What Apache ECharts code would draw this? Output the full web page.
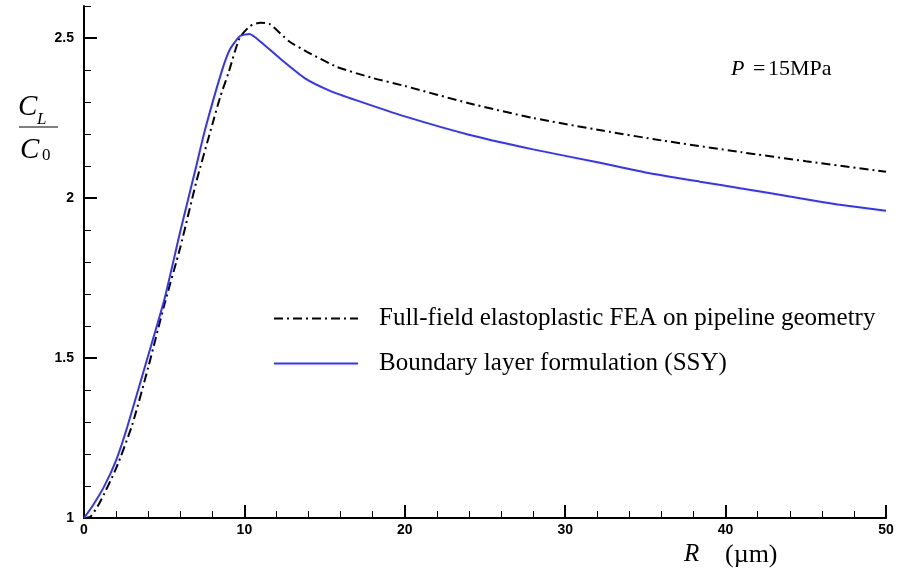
<!DOCTYPE html>
<html>
<head>
<meta charset="utf-8">
<script src="https://cdn.jsdelivr.net/npm/echarts@6/dist/echarts.min.js"></script>
<style>html,body{margin:0;padding:0;background:#fff}#c{width:902px;height:575px}</style>
</head>
<body>
<div id="c"></div>
<script>
// Full-field elastoplastic FEA on pipeline geometry (black dash-dot)
const feaR = [0, 0.4, 1, 2, 3, 4, 5, 6, 7, 8, 8.5, 9, 9.7, 10.35, 11, 11.6, 12.8, 13.9, 15.75, 18, 20, 24, 28, 32.4, 36, 41, 45, 50];
const feaC = [1.00, 1.004, 1.05, 1.155, 1.29, 1.47, 1.665, 1.845, 2.05, 2.23, 2.317, 2.39, 2.50, 2.537, 2.548, 2.543, 2.489, 2.457, 2.41, 2.375, 2.35, 2.296, 2.25, 2.21, 2.18, 2.143, 2.115, 2.082];
// Boundary layer formulation (SSY) (blue)
const ssyR = [0, 0.5, 1.25, 2, 2.7, 3.95, 5, 6, 7, 7.54, 8.58, 9.1, 9.73, 10.31, 10.97, 12.22, 13.78, 15.34, 17, 20, 24.06, 28, 32.17, 35, 38.4, 41, 44.64, 47, 50];
const ssyC = [1.00, 1.035, 1.098, 1.18, 1.285, 1.499, 1.681, 1.895, 2.10, 2.2125, 2.395, 2.465, 2.506, 2.5125, 2.49, 2.436, 2.374, 2.335, 2.305, 2.255, 2.197, 2.152, 2.110, 2.08, 2.051, 2.03, 1.999, 1.98, 1.96];
const yMajorTicks = [1, 1.5, 2, 2.5];
const seriesNames = ['Full-field elastoplastic FEA on pipeline geometry', 'Boundary layer formulation (SSY)'];

const zip = (a, b) => a.map((v, i) => [v, b[i]]);
const chart = echarts.init(document.getElementById('c'));
const serif = '"Liberation Serif", "Times New Roman", serif';
const sans = '"Liberation Sans", Arial, sans-serif';

chart.setOption({
  animation: false,
  backgroundColor: '#fff',
  grid: { left: 84, right: 16, top: 6, bottom: 57 },
  xAxis: {
    type: 'value', min: 0, max: 50, interval: 10,
    axisLine: { lineStyle: { color: '#000', width: 2 } },
    axisTick: { inside: true, length: 13, lineStyle: { color: '#000', width: 2 } },
    minorTick: { show: true, splitNumber: 5, length: 7, lineStyle: { color: '#000', width: 1 } },
    splitLine: { show: false }, minorSplitLine: { show: false },
    axisLabel: { color: '#000', fontFamily: sans, fontWeight: 'bold', fontSize: 14, margin: 5 }
  },
  yAxis: [{
    type: 'value', min: 1, max: 2.6, interval: 0.1, position: 'left',
    axisLine: { show: true, lineStyle: { color: '#000', width: 2 } },
    axisTick: { inside: true, length: 7, lineStyle: { color: '#000', width: 1 } },
    axisLabel: { show: false },
    splitLine: { show: false }
  }, {
    type: 'value', min: 1, max: 2.6, interval: 0.5, position: 'left', offset: 0,
    axisLine: { show: false },
    axisTick: { inside: true, length: 13, customValues: yMajorTicks, lineStyle: { color: '#000', width: 2 } },
    axisLabel: { customValues: yMajorTicks, color: '#000', fontFamily: sans, fontWeight: 'bold', fontSize: 14, margin: 10 },
    splitLine: { show: false }
  }],
  legend: {
    orient: 'vertical', left: 273, top: 306, padding: 0, itemWidth: 84, itemHeight: 14, itemGap: 20,
    itemStyle: { opacity: 0 },
    textStyle: { fontFamily: serif, fontSize: 25, color: '#000', padding: [0, 0, 0, 16] },
    data: seriesNames
  },
  series: [{
    name: seriesNames[0], type: 'line', data: zip(feaR, feaC), showSymbol: false, symbol: 'none',
    smooth: 0.2,
    lineStyle: { color: '#000', width: 2, type: [9, 4, 2, 4] }, itemStyle: { color: '#000' }
  }, {
    name: seriesNames[1], type: 'line', data: zip(ssyR, ssyC), showSymbol: false, symbol: 'none',
    smooth: 0.2,
    lineStyle: { color: '#3333ff', width: 2 }, itemStyle: { color: '#3333ff' }
  }],
  graphic: [
    { type: 'text', left: 18, top: 93, style: { text: 'C', font: 'italic 29px ' + serif, fill: '#000' } },
    { type: 'text', left: 37, top: 111, style: { text: 'L', font: 'italic 17px ' + serif, fill: '#000' } },
    { type: 'line', shape: { x1: 19, y1: 127, x2: 58, y2: 127 }, style: { stroke: '#000', lineWidth: 1.2 } },
    { type: 'text', left: 20, top: 136, style: { text: 'C', font: 'italic 29px ' + serif, fill: '#000' } },
    { type: 'text', left: 42, top: 147, style: { text: '0', font: '17px ' + serif, fill: '#000' } },
    { type: 'text', left: 684, top: 542, style: { text: 'R', font: 'italic 25px ' + serif, fill: '#000' } },
    { type: 'text', left: 725, top: 542, style: { text: '(\u00b5m)', font: '26px ' + serif, fill: '#000' } },
    { type: 'text', left: 731, top: 58, style: { text: 'P', font: 'italic 22px ' + serif, fill: '#000' } },
    { type: 'text', left: 753, top: 58, style: { text: '=', font: '22px ' + serif, fill: '#000' } },
    { type: 'text', left: 768, top: 58, style: { text: '15MPa', font: '22px ' + serif, fill: '#000' } }
  ]
});
</script>
</body>
</html>
